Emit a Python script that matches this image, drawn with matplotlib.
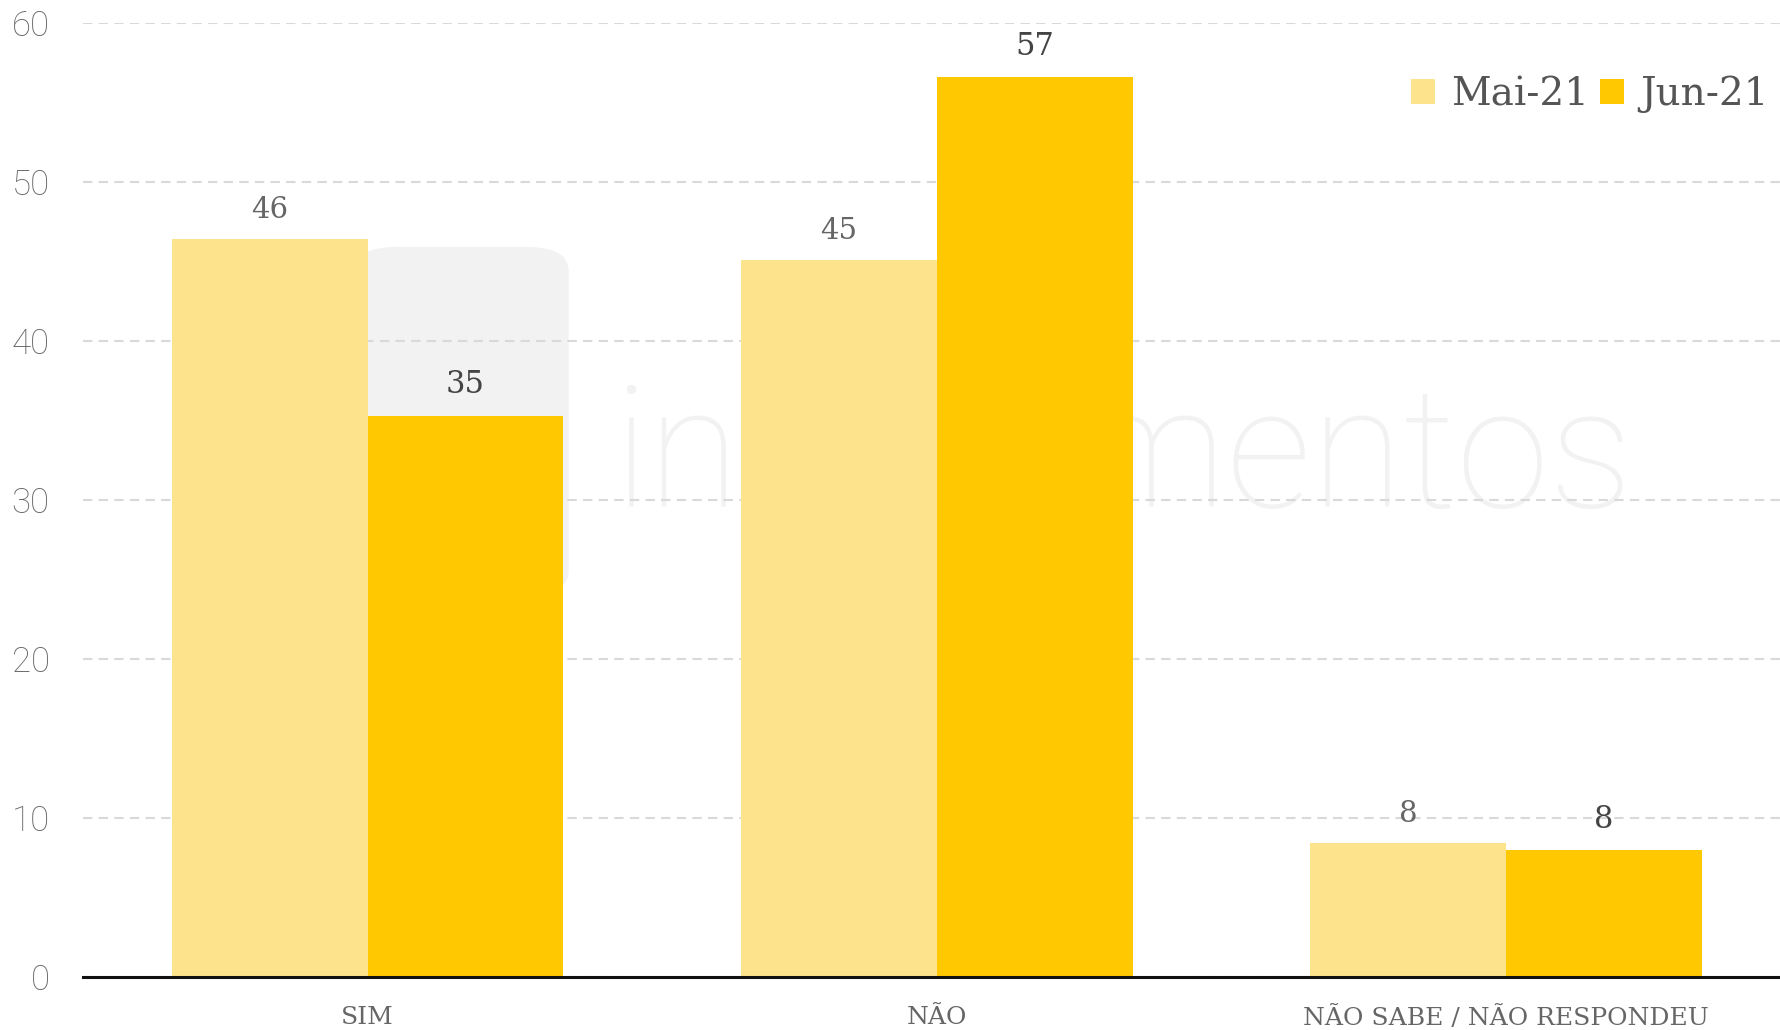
import matplotlib
matplotlib.use("Agg")
import matplotlib.pyplot as plt
from matplotlib.patches import FancyBboxPatch
import numpy as np

# ── Data ──────────────────────────────────────────────────────────────────────
categories = ["SIM", "NÃO", "NÃO SABE / NÃO RESPONDEU"]
series_names = ["Mai-21", "Jun-21"]
mai_values = [46.4, 45.1, 8.4]
jun_values = [35.3, 56.6, 8.0]
mai_labels = ["46", "45", "8"]
jun_labels = ["35", "57", "8"]
yticks = [0, 10, 20, 30, 40, 50, 60]

# ── Style ─────────────────────────────────────────────────────────────────────
LIGHT = "#FDE48C"
GOLD = "#FFC800"
GRID = "#D9D9D9"
TXT = "#666666"
WM = "#F2F2F2"
SERIF = ["DejaVu Serif"]

fig = plt.figure(figsize=(17.81, 10.30), dpi=100)
fig.patch.set_facecolor("white")
ax = fig.add_axes([0.0466, 0.0515, 0.9534, 0.9265])

x = np.arange(len(categories))
w = 0.344

# watermark (behind grid and bars)
ax.add_patch(FancyBboxPatch((0.16, 0.40), 0.126, 0.365, transform=ax.transAxes,
                            boxstyle="round,pad=0,rounding_size=0.025",
                            facecolor=WM, edgecolor="none", zorder=0.5))
ax.text(0.312, 0.492, "investimentos", transform=ax.transAxes,
        fontsize=121, family="Roboto", fontweight="light",
        color=WM, ha="left", va="baseline", zorder=0.6)

b1 = ax.bar(x - w / 2, mai_values, w, color=LIGHT, label=series_names[0], zorder=3)
b2 = ax.bar(x + w / 2, jun_values, w, color=GOLD, label=series_names[1], zorder=3)

for rect, lab in zip(b1, mai_labels):
    ax.text(rect.get_x() + rect.get_width() / 2, rect.get_height() + 0.95, lab,
            ha="center", va="bottom", fontsize=21, family=SERIF, color="#666666",
            zorder=4)
for rect, lab in zip(b2, jun_labels):
    ax.text(rect.get_x() + rect.get_width() / 2, rect.get_height() + 0.95, lab,
            ha="center", va="bottom", fontsize=22, family=SERIF, color="#444444",
            zorder=4)

ax.set_xlim(-0.5, 2.483)
ax.set_ylim(0, 60)
ax.set_yticks(yticks)
ax.set_yticklabels([str(v) for v in yticks], family="Roboto", fontweight="light",
                   fontsize=25, color=TXT)
ax.set_xticks(x)
ax.set_xticklabels(categories, family=SERIF, fontsize=18, color=TXT)
ax.tick_params(axis="y", length=0, pad=24)
ax.tick_params(axis="x", length=0, pad=21)

ax.grid(axis="y", color=GRID, linewidth=1.5, linestyle=(0, (4.5, 3.0)), zorder=1)
ax.set_axisbelow(False)
for s in ["top", "right", "left"]:
    ax.spines[s].set_visible(False)
ax.spines["bottom"].set_color("#111111")
ax.spines["bottom"].set_linewidth(2.2)
ax.spines["bottom"].set_zorder(5)
ax.set_facecolor("none")

leg = ax.legend(loc="upper right", bbox_to_anchor=(1.004, 0.965), frameon=False,
                prop={"family": SERIF, "size": 28}, handlelength=0.62,
                handleheight=0.62, handletextpad=0.4, columnspacing=0.3,
                ncol=2, borderaxespad=0.1)
for t in leg.get_texts():
    t.set_color("#555555")

fig.savefig("out.png", dpi=100, facecolor="white")
